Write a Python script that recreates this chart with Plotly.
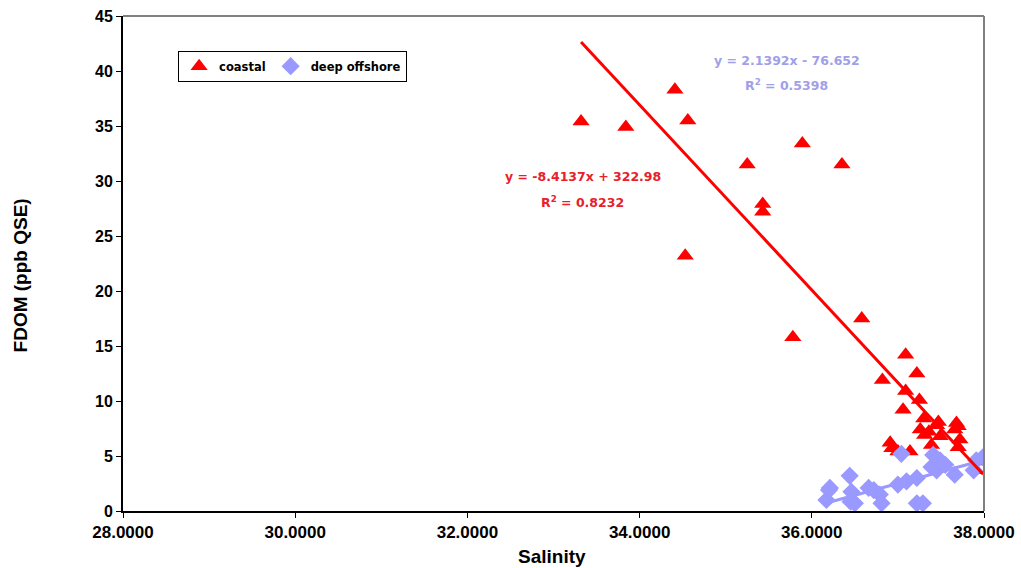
import numpy as np
import plotly.graph_objects as go

# Salinity / FDOM samples
coastal_salinity = [33.32, 33.84, 34.41, 34.56, 34.53, 35.25, 35.43, 35.43, 35.89, 36.35,
                    35.78, 36.58, 36.82, 37.09, 37.22, 37.09, 37.25, 37.06, 37.30, 37.47,
                    37.68, 37.26, 37.45, 37.70, 37.31, 37.49, 37.72, 37.70, 37.39, 36.91,
                    36.93, 37.14, 37.00, 37.91, 37.99, 37.36, 37.66]
coastal_fdom = [35.4, 34.9, 38.3, 35.5, 23.2, 31.5, 27.9, 27.2, 33.4, 31.5,
                15.8, 17.5, 11.9, 14.2, 12.5, 10.9, 10.1, 9.2, 8.4, 8.1,
                8.0, 7.4, 7.8, 7.7, 6.9, 6.8, 6.5, 5.8, 6.0, 6.2,
                5.7, 5.4, 5.4, 3.7, 4.5, 7.2, 7.4]

deep_salinity = [36.17, 36.21, 36.20, 36.44, 36.46, 36.50, 36.45, 36.66, 36.72, 36.79,
                 36.81, 37.00, 37.04, 37.22, 37.22, 37.29, 37.39, 37.41, 37.49, 37.45,
                 37.66, 37.88, 37.91, 37.99, 37.10, 37.55]
deep_fdom = [1.0, 2.1, 1.9, 3.2, 1.75, 0.7, 0.85, 2.1, 1.9, 1.5,
             0.7, 2.4, 5.2, 3.0, 0.7, 0.7, 4.0, 5.1, 4.6, 3.7,
             3.3, 3.7, 4.6, 4.9, 2.7, 4.2]

# Linear trendline coefficients (slope, intercept, R²)
coastal_fit = (-8.4137, 322.98, 0.8232)
deep_fit = (2.1392, -76.652, 0.5398)

x_ticks = [28, 30, 32, 34, 36, 38]
y_ticks = [0, 5, 10, 15, 20, 25, 30, 35, 40, 45]

RED = "#FF0000"
BLUE = "#9999FF"


def trend(xs, fit):
    x = np.array([min(xs), max(xs)])
    return x, fit[0] * x + fit[1]


fig = go.Figure()
fig.add_trace(go.Scatter(
    x=coastal_salinity, y=coastal_fdom, mode="markers", name="<b>coastal</b>",
    marker=dict(symbol="triangle-up", size=15, color=RED, line=dict(width=0)),
))
fig.add_trace(go.Scatter(
    x=deep_salinity, y=deep_fdom, mode="markers", name="<b>deep offshore</b>",
    marker=dict(symbol="diamond", size=14, color=BLUE, line=dict(width=0)),
))
tx, ty = trend(deep_salinity, deep_fit)
fig.add_trace(go.Scatter(x=tx, y=ty, mode="lines", showlegend=False,
                         line=dict(color=BLUE, width=3)))
tx, ty = trend(coastal_salinity, coastal_fit)
fig.add_trace(go.Scatter(x=tx, y=ty, mode="lines", showlegend=False,
                         line=dict(color=RED, width=3)))


def eq_text(fit):
    sign = "+" if fit[1] >= 0 else "-"
    return f"y = {fit[0]:.4f}x {sign} {abs(fit[1]):g}", f"R<sup>2</sup> = {fit[2]:.4f}"


eq_font = "DejaVu Sans"
c_eq, c_r2 = eq_text(coastal_fit)
d_eq, d_r2 = eq_text(deep_fit)
annotations = [
    dict(text=f"<b>{c_eq}</b>", x=0.534, y=0.675, font=dict(color="#E8202A", size=12.5, family=eq_font)),
    dict(text=f"<b>{c_r2}</b>", x=0.534, y=0.624, font=dict(color="#E8202A", size=12.5, family=eq_font)),
    dict(text=f"<b>{d_eq}</b>", x=0.771, y=0.910, font=dict(color="#A0A0E8", size=12.5, family=eq_font)),
    dict(text=f"<b>{d_r2}</b>", x=0.771, y=0.860, font=dict(color="#A0A0E8", size=12.5, family=eq_font)),
    dict(text="<b>FDOM (ppb QSE)</b>", x=-0.119, y=0.475, textangle=-90,
         font=dict(color="black", size=19, family="Liberation Sans, Arial")),
    dict(text="<b>Salinity</b>", x=0.498, y=-0.091,
         font=dict(color="black", size=19, family="Liberation Sans, Arial")),
]
for a in annotations:
    a.update(xref="paper", yref="paper", showarrow=False, xanchor="center", yanchor="middle")

fig.update_layout(
    width=1021, height=568, autosize=False,
    margin=dict(l=123, r=37, t=16, b=57, autoexpand=False),
    paper_bgcolor="white", plot_bgcolor="white",
    showlegend=True,
    legend=dict(orientation="h", x=0.064, y=0.93, xanchor="left", yanchor="top",
                bordercolor="black", borderwidth=1, bgcolor="white",
                font=dict(family="DejaVu Sans", size=11.5, color="black"),
                itemwidth=30, tracegroupgap=0),
    annotations=annotations,
    shapes=[
        dict(type="line", xref="paper", yref="paper", x0=0, x1=1, y0=1, y1=1,
             line=dict(color="#808080", width=2)),
        dict(type="line", xref="paper", yref="paper", x0=1, x1=1, y0=0, y1=1,
             line=dict(color="#808080", width=2)),
    ],
)
fig.update_xaxes(
    range=[28, 38], tickvals=x_ticks, ticktext=[f"<b>{v:.4f}</b>" for v in x_ticks],
    showgrid=False, zeroline=False, showline=True, linecolor="black", linewidth=2,
    ticks="outside", ticklen=5, tickcolor="black", tickwidth=1,
    ticklabeloverflow="allow", automargin=False,
    tickfont=dict(family="Liberation Sans, Arial", size=17, color="black"),
)
fig.update_yaxes(
    range=[0, 45], tickvals=y_ticks, ticktext=[f"<b>{v}</b>" for v in y_ticks],
    showgrid=False, zeroline=False, showline=True, linecolor="black", linewidth=2,
    ticks="outside", ticklen=5, tickcolor="black", tickwidth=1, automargin=False,
    tickfont=dict(family="Liberation Sans, Arial", size=16, color="black"),
)

fig.write_html("out.html")
